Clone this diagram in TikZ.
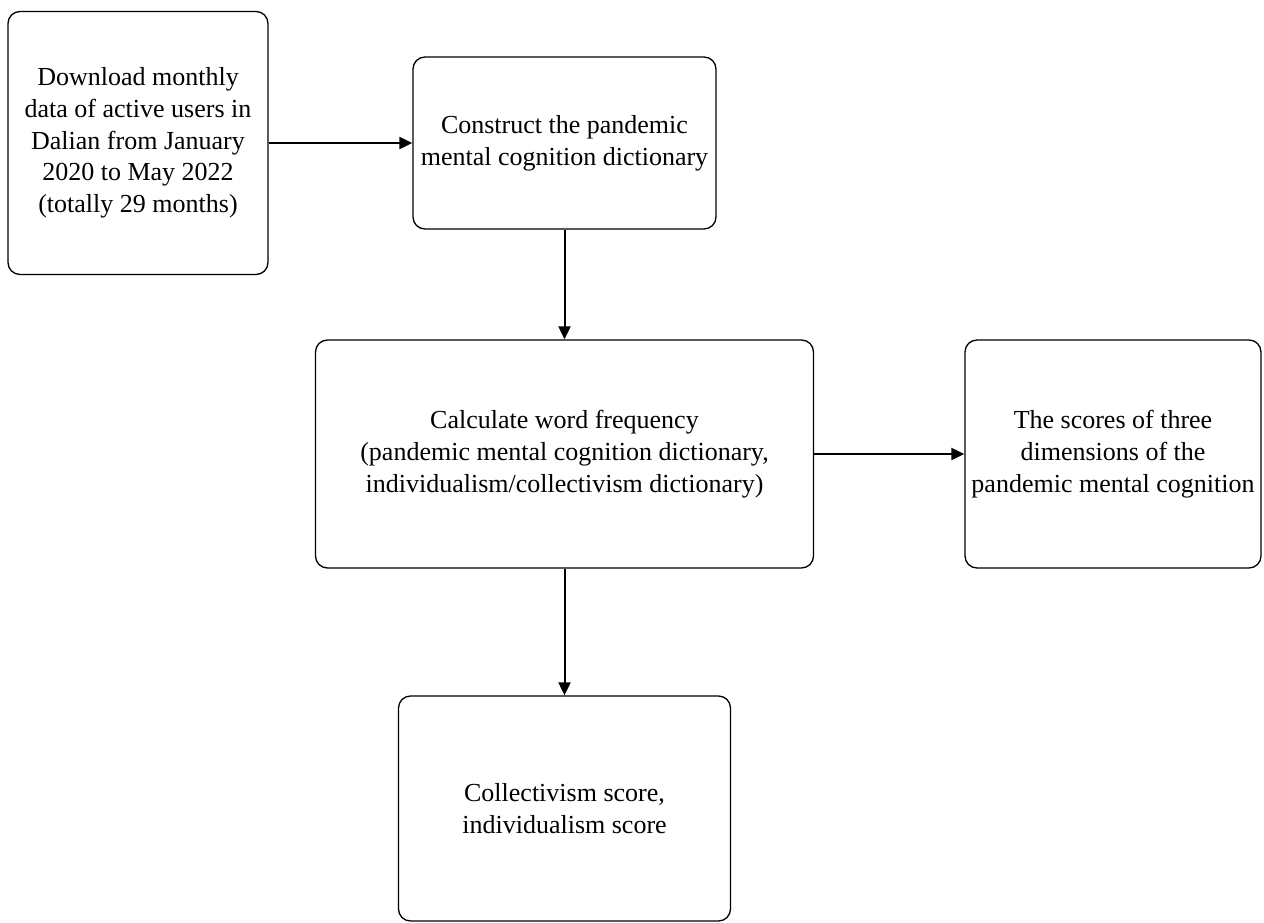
\documentclass[tikz,border=0pt]{standalone}
\usepackage{fontspec}
\setmainfont{Liberation Serif}
\usetikzlibrary{arrows.meta}

\begin{document}
\begin{tikzpicture}[x=1pt, y=-1pt, >={Triangle[length=13pt,width=12pt]},
  stepbox/.style={draw, line width=1.3pt, rounded corners=12pt, inner sep=0pt,
    align=center, font=\fontsize{26}{31.7}\selectfont},
  flow/.style={->, line width=2pt}]
\useasboundingbox (0,0) rectangle (1264,923);

\node[stepbox, minimum width=260pt, minimum height=263pt] (download) at (138, 143)
  {Download monthly\\data of active users in\\Dalian from January\\2020 to May 2022\\(totally 29 months)};
\node[stepbox, minimum width=303pt, minimum height=172pt] (dict) at (564.5, 143)
  {Construct the pandemic\\mental cognition dictionary};
\node[stepbox, minimum width=498pt, minimum height=228pt] (freq) at (564.5, 454)
  {Calculate word frequency\\(pandemic mental cognition dictionary,\\individualism/collectivism dictionary)};
\node[stepbox, minimum width=296pt, minimum height=228pt] (dims) at (1113, 454)
  {The scores of three\\dimensions of the\\pandemic mental cognition};
\node[stepbox, minimum width=332pt, minimum height=225pt] (score) at (564.5, 808.5)
  {Collectivism score,\\individualism score};

\draw [flow] (download) -- (dict);
\draw [flow] (dict) -- (freq);
\draw [flow] (freq) -- (dims);
\draw [flow] (freq) -- (score);
\end{tikzpicture}
\end{document}
